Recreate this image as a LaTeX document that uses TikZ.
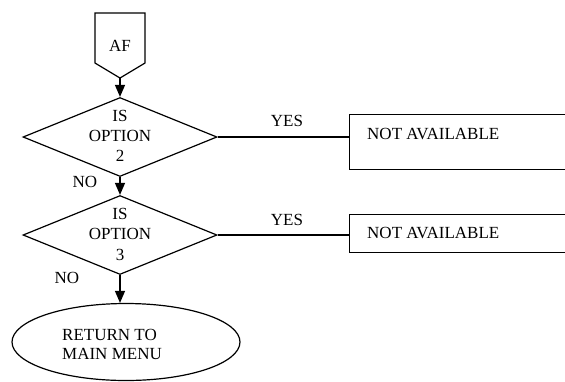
\documentclass[tikz,border=0pt]{standalone}
\usepackage{fontspec}
\setmainfont{Liberation Serif}
\usetikzlibrary{shapes.geometric,arrows.meta}
\begin{document}
\begin{tikzpicture}[x=1pt,y=-1pt,
  every node/.style={font=\fontsize{17}{20.5}\selectfont},
  line/.style={line width=1.2pt},
  flow/.style={line, -{Triangle[length=12pt,width=10pt]}},
  decision/.style={diamond, draw, line width=1.2pt, inner sep=0pt,
    minimum width=194pt, minimum height=79pt},
  outbox/.style={rectangle, draw, line width=1.2pt, inner sep=0pt,
    minimum width=260pt, anchor=north west},
  terminal/.style={ellipse, draw, line width=1.2pt, inner sep=0pt,
    minimum width=228pt, minimum height=77pt},
  lbl/.style={inner sep=0pt, align=center}
]
\useasboundingbox (0,0) rectangle (565,381);
\clip (0,0) rectangle (565,381);

% off-page connector AF
\draw[line] (95,13) -- (145,13) -- (145,63) -- (120,78) -- (95,63) -- cycle;
\node[lbl] (af) at (120,46) {AF};
\coordinate (aftip) at (120,78);

% first decision
\node[decision] (d1) at (120,137) {};
\node[lbl, font=\fontsize{17}{20}\selectfont] (t1) at (120,136) {IS\\OPTION\\2};
\draw[flow] (aftip) -- (d1.north);

% first reply box
\node[outbox, minimum height=55pt] (b1) at (349,114) {};
\node[lbl, anchor=west] (n1) at (367,134) {NOT AVAILABLE};
\draw[line] (d1.east) -- (d1.east -| b1.west);
\node[lbl] (y1) at (287,121) {YES};

% second decision
\node[decision] (d2) at (120,235) {};
\node[lbl, font=\fontsize{17}{20.5}\selectfont] (t2) at (120,234) {IS\\OPTION\\3};
\draw[flow] (d1.south) -- (d2.north);
\node[lbl] (no1) at (85,182) {NO};

% second reply box
\node[outbox, minimum height=38pt] (b2) at (349,214) {};
\node[lbl, anchor=west] (n2) at (367,233) {NOT AVAILABLE};
\draw[line] (d2.east) -- (d2.east -| b2.west);
\node[lbl] (y2) at (287,220) {YES};

% return to main menu
\node[terminal] (rt) at (126,342) {};
\node[lbl, align=left, anchor=west, font=\fontsize{17}{19}\selectfont] (t3) at (62,344) {RETURN TO\\MAIN MENU};
\draw[flow] (d2.south) -- (d2.south |- rt.north);
\node[lbl] (no2) at (67,278) {NO};
\end{tikzpicture}
\end{document}
